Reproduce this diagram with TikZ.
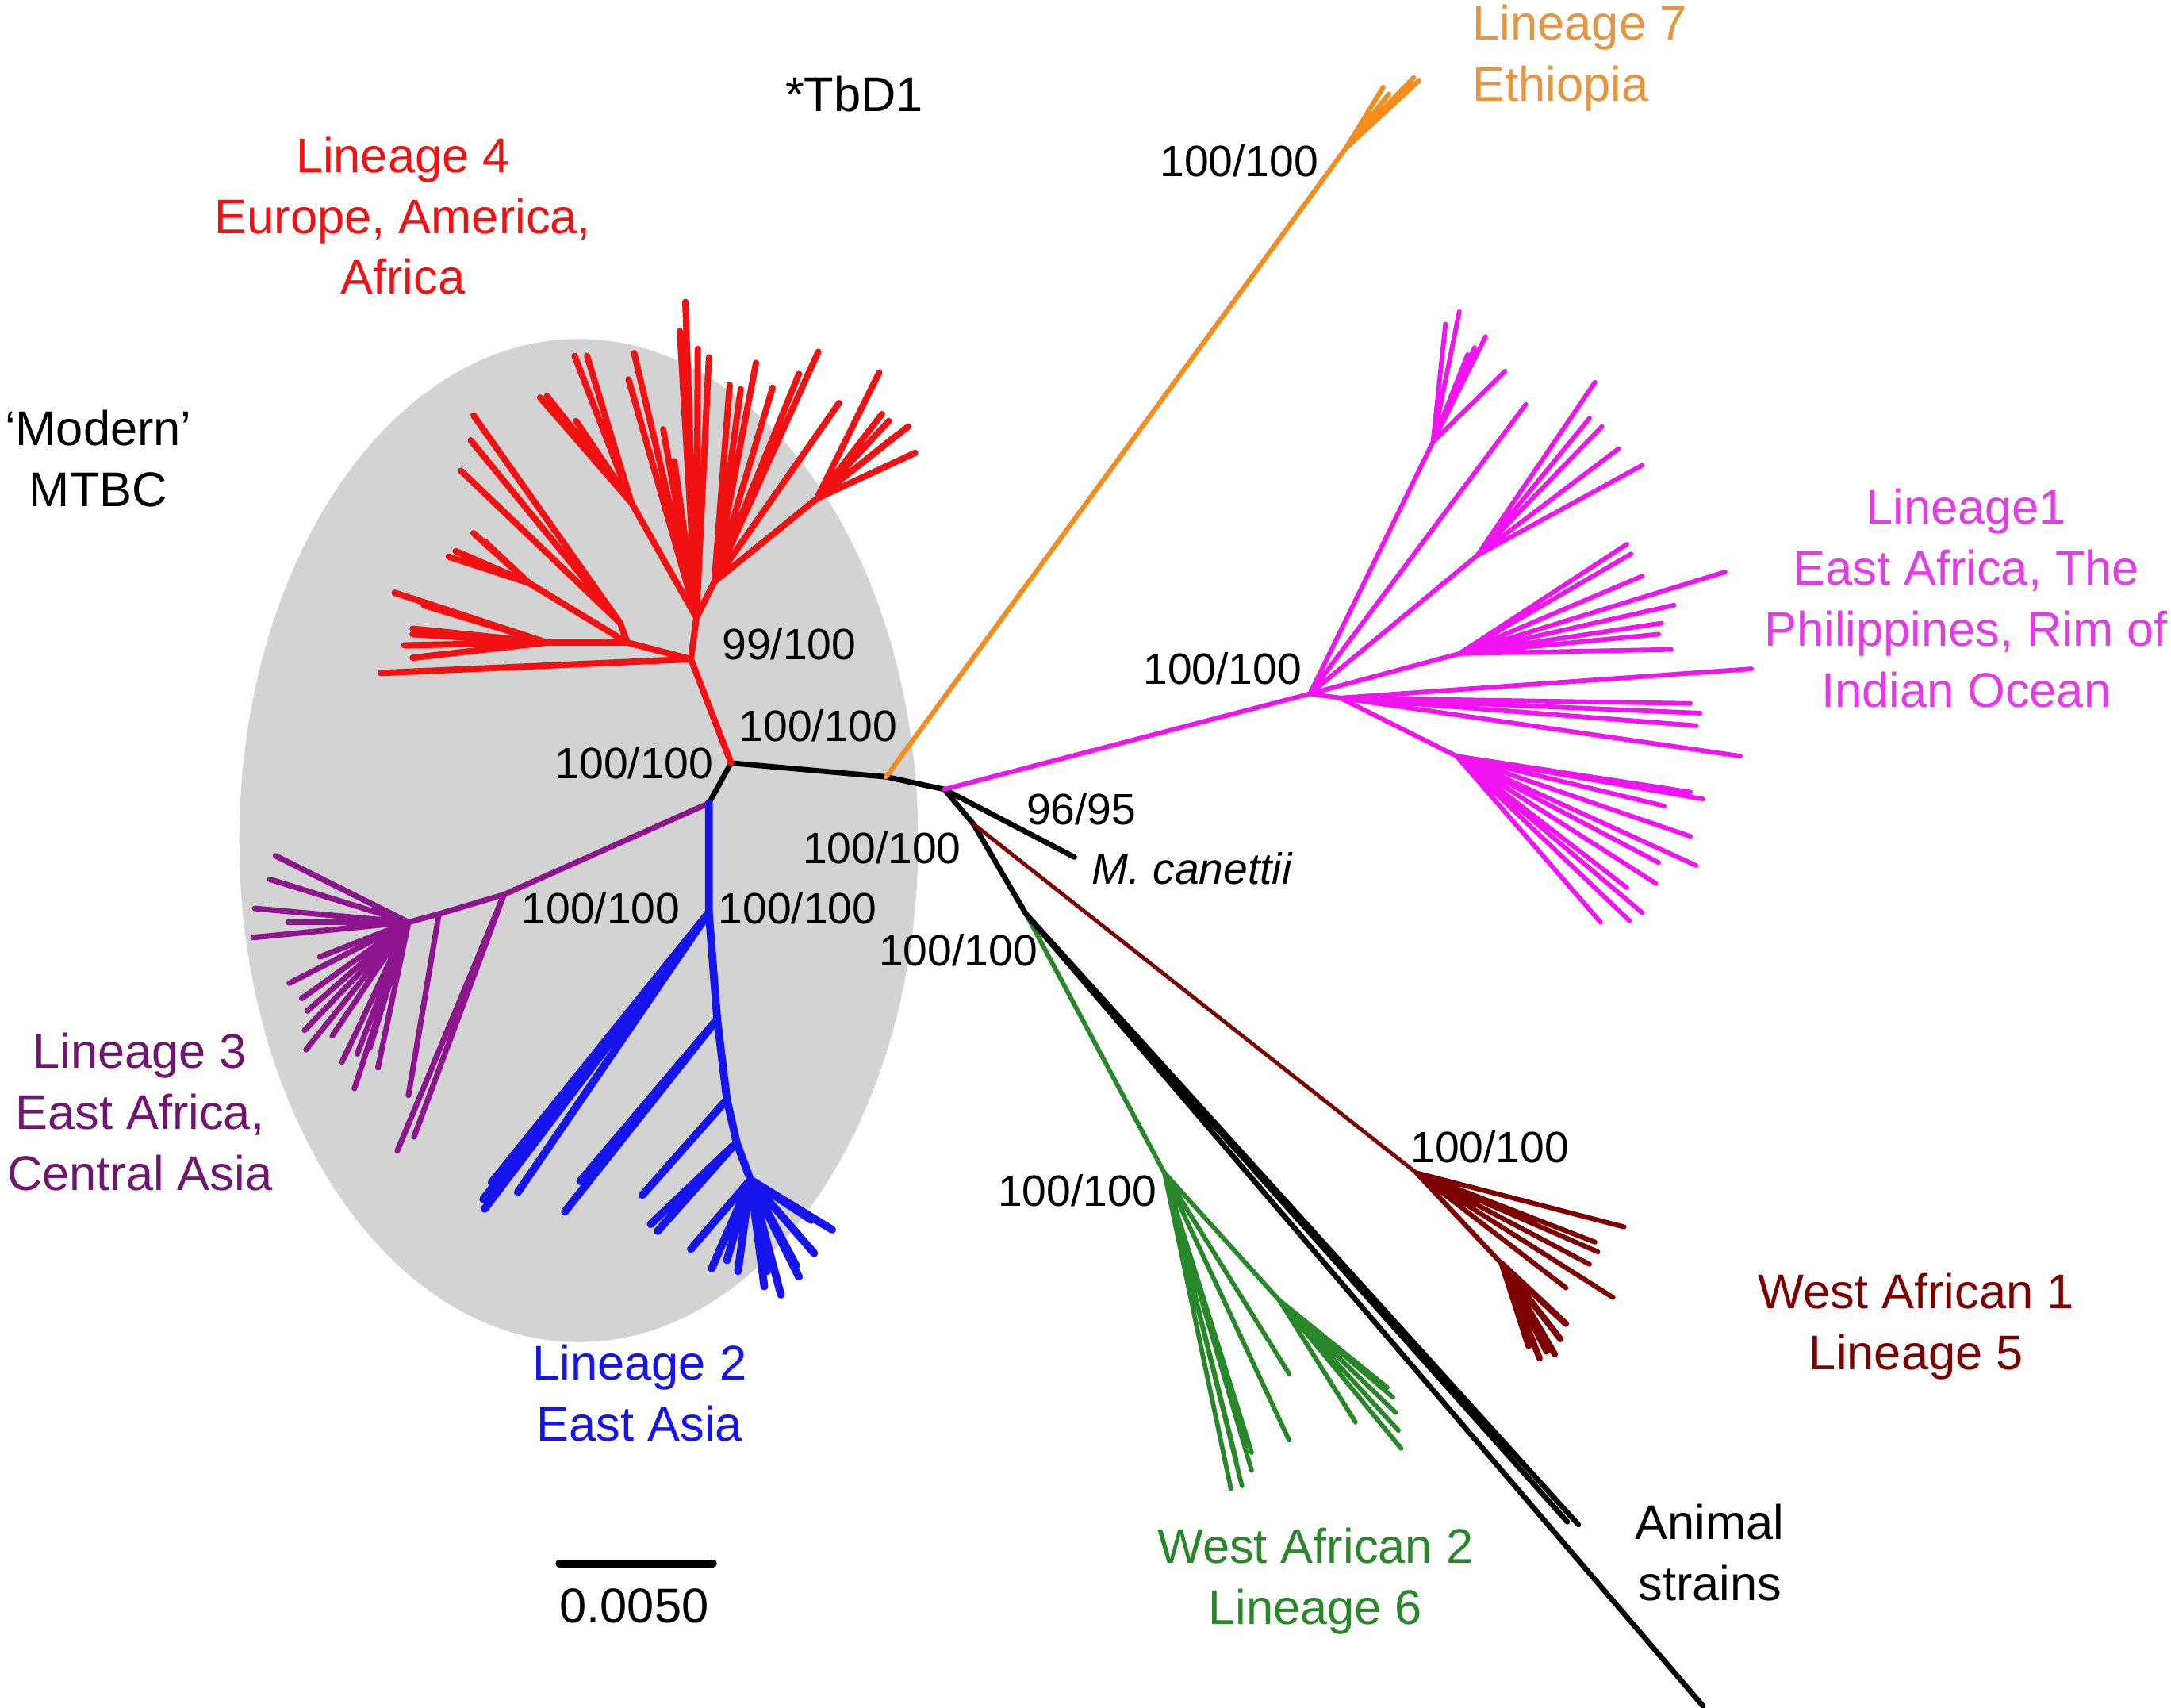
\documentclass[tikz,border=0pt]{standalone}
\usepackage{fontspec}
\setmainfont{Liberation Sans}

\definecolor{linfour}{RGB}{240,18,18}
\definecolor{linthree}{RGB}{140,20,140}
\definecolor{linthreetxt}{RGB}{112,22,112}
\definecolor{lintwo}{RGB}{20,20,235}
\definecolor{linone}{RGB}{240,20,240}
\definecolor{linonetxt}{RGB}{228,60,228}
\definecolor{linseven}{RGB}{245,140,30}
\definecolor{linseventxt}{RGB}{230,150,65}
\definecolor{linsix}{RGB}{40,135,40}
\definecolor{linfive}{RGB}{125,0,0}
\definecolor{mtbcgrey}{RGB}{211,211,211}

\tikzset{
	br/.style={line width=1.1pt, line cap=round, line join=round},
	bk/.style={br, draw=black},
	lfour/.style={br, draw=linfour, line width=1.3pt},
	lthree/.style={br, draw=linthree, line width=1.15pt},
	ltwo/.style={br, draw=lintwo, line width=1.6pt},
	lone/.style={br, draw=linone, line width=0.95pt},
	lseven/.style={br, draw=linseven, line width=1pt},
	lsix/.style={br, draw=linsix, line width=0.95pt},
	lfive/.style={br, draw=linfive, line width=1pt},
	lab/.style={font=\fontsize{10}{12.5}\selectfont, align=center, inner sep=0pt},
	boot/.style={font=\fontsize{9}{10}\selectfont, inner sep=0pt}
}

\begin{document}
\begin{tikzpicture}[x=0.01cm, y=-0.01cm]

	\useasboundingbox (0,0) rectangle (1568,1233);

	% modern MTBC area
	\fill[mtbcgrey] (418,607) ellipse [x radius=2.45cm, y radius=3.62cm];

	% backbone
	\coordinate (a) at (528,551);
	\coordinate (b) at (512,580);
	\coordinate (o) at (640,561);
	\coordinate (c) at (682,570);
	\coordinate (d) at (703,595);
	\coordinate (f) at (741,660);
	\coordinate (can) at (776,619);

		\draw[bk] (b) -- (a) -- (o) -- (c) -- (d) -- (f);
		\draw[bk] (c) -- (can);

	% lineage 7
	\coordinate (l7) at (972,107);
		\draw[lseven] (o) -- (l7);
		\draw[lseven] (l7) -- (999,63) (l7) -- (1003,68) (l7) -- (1019,59) (l7) -- (1021,56) (l7) -- (1025,58);

	% lineage 4
	\coordinate (l4a) at (499,476);
	\coordinate (l4b) at (503,446);
	\coordinate (l4c) at (453,464);
	\coordinate (l4d) at (395,464);
	\coordinate (l4e) at (382,421);
	\coordinate (l4f) at (448,450);
	\coordinate (l4g) at (456,363);
	\coordinate (l4h) at (516,420);
	\coordinate (l4i) at (590,360);
		\draw[lfour] (a) -- (l4a) -- (l4b);
		\draw[lfour] (l4a) -- (275,486) (l4a) -- (l4c) -- (l4d);
		\draw[lfour] (l4d) -- (298,475) (l4d) -- (298,458) (l4d) -- (298,454) (l4d) -- (285,428) (l4d) -- (306,437) (l4d) -- (292,466);
		\draw[lfour] (l4c) -- (l4e) (l4c) -- (l4f);
		\draw[lfour] (l4e) -- (324,402) (l4e) -- (334,400) (l4e) -- (342,385) (l4e) -- (350,391) (l4e) -- (329,398);
		\draw[lfour] (l4f) -- (333,340) (l4f) -- (342,300) (l4f) -- (340,318);
		\draw[lfour] (l4b) -- (495,218) (l4b) -- (491,239) (l4b) -- (504,252) (l4b) -- (512,258) (l4b) -- (479,310) (l4b) -- (487,333) (l4b) -- (458,255) (l4b) -- (454,274);
		\draw[lfour] (l4b) -- (l4g) (l4b) -- (l4h);
		\draw[lfour] (l4g) -- (415,257) (l4g) -- (424,257) (l4g) -- (390,287) (l4g) -- (395,286) (l4g) -- (416,304);
		\draw[lfour] (l4h) -- (606,291) (l4h) -- (591,254) (l4h) -- (577,270) (l4h) -- (558,280) (l4h) -- (546,262) (l4h) -- (527,278) (l4h) -- (535,281) (l4h) -- (l4i);
		\draw[lfour] (l4i) -- (661,327) (l4i) -- (656,308) (l4i) -- (642,304) (l4i) -- (635,269) (l4i) -- (637,299) (l4i) -- (648,314);

	% lineage 3
	\coordinate (l3a) at (364,646);
	\coordinate (l3b) at (317,660);
	\coordinate (l3c) at (295,666);
		\draw[lthree] (b) -- (l3a) -- (l3b) -- (l3c);
		\draw[lthree] (l3a) -- (287,831) (l3a) -- (299,821) (l3b) -- (295,791);
		\draw[lthree] (l3c) -- (199,618) (l3c) -- (195,635) (l3c) -- (184,656) (l3c) -- (183,677) (l3c) -- (208,666) (l3c) -- (209,710) (l3c) -- (218,721) (l3c) -- (222,730);
		\draw[lthree] (l3c) -- (220,744) (l3c) -- (221,758) (l3c) -- (240,748) (l3c) -- (247,767) (l3c) -- (256,786) (l3c) -- (273,771) (l3c) -- (267,757) (l3c) -- (231,691) (l3c) -- (258,761);

	% lineage 2
	\coordinate (l2a) at (512,659);
	\coordinate (l2b) at (518,736);
	\coordinate (l2c) at (525,794);
	\coordinate (l2d) at (532,825);
	\coordinate (l2e) at (542,852);
		\draw[ltwo] (b) -- (l2a) -- (l2b) -- (l2c) -- (l2d) -- (l2e);
		\draw[ltwo] (l2a) -- (350,873) (l2a) -- (349,866) (l2a) -- (374,861) (l2a) -- (355,854);
		\draw[ltwo] (l2b) -- (408,875) (l2b) -- (419,853) (l2c) -- (464,863) (l2d) -- (470,884) (l2d) -- (475,889);
		\draw[ltwo] (l2e) -- (499,902) (l2e) -- (514,916) (l2e) -- (525,910) (l2e) -- (533,918) (l2e) -- (552,929) (l2e) -- (554,918);
		\draw[ltwo] (l2e) -- (564,935) (l2e) -- (575,914) (l2e) -- (577,922) (l2e) -- (586,881) (l2e) -- (588,905) (l2e) -- (601,888);

	% lineage 1
	\coordinate (l1a) at (946,501);
	\coordinate (l1b) at (1035,319);
	\coordinate (l1c) at (1067,401);
	\coordinate (l1d) at (1054,472);
	\coordinate (l1e) at (968,504);
	\coordinate (l1f) at (1052,546);
		\draw[lone] (c) -- (l1a) -- (l1e) -- (l1f);
		\draw[lone] (l1a) -- (l1b) (l1a) -- (l1c) (l1a) -- (l1d) (l1a) -- (1102,292);
		\draw[lone] (l1b) -- (1044,234) (l1b) -- (1054,225) (l1b) -- (1060,256) (l1b) -- (1065,251) (l1b) -- (1073,243) (l1b) -- (1087,268);
		\draw[lone] (l1c) -- (1152,276) (l1c) -- (1148,302) (l1c) -- (1157,308) (l1c) -- (1169,324) (l1c) -- (1186,336);
		\draw[lone] (l1d) -- (1175,393) (l1d) -- (1178,400) (l1d) -- (1186,416) (l1d) -- (1246,413) (l1d) -- (1209,437) (l1d) -- (1200,450) (l1d) -- (1198,458) (l1d) -- (1207,469);
		\draw[lone] (l1e) -- (1265,483) (l1e) -- (1221,508) (l1e) -- (1228,515) (l1e) -- (1225,524) (l1e) -- (1257,546);
		\draw[lone] (l1f) -- (1221,572) (l1f) -- (1230,577) (l1f) -- (1202,582) (l1f) -- (1221,604) (l1f) -- (1225,625) (l1f) -- (1198,623);
		\draw[lone] (l1f) -- (1196,638) (l1f) -- (1175,641) (l1f) -- (1186,659) (l1f) -- (1156,666) (l1f) -- (1177,665);

	% lineage 5
	\coordinate (l5a) at (1023,847);
	\coordinate (l5b) at (1085,913);
		\draw[lfive, line width=0.8pt] (d) -- (l5a);
		\draw[lfive] (l5a) -- (1173,886) (l5a) -- (1152,897) (l5a) -- (1154,904) (l5a) -- (1148,913) (l5a) -- (1165,937) (l5a) -- (1131,930) (l5a) -- (l5b);
		\draw[lfive, line width=1.3pt] (l5b) -- (1112,981) (l5b) -- (1117,976) (l5b) -- (1127,967) (l5b) -- (1131,956) (l5b) -- (1104,972) (l5b) -- (1123,978);

	% lineage 6
	\coordinate (l6a) at (841,847);
	\coordinate (l6b) at (924,939);
		\draw[lsix] (f) -- (l6a);
		\draw[lsix] (l6a) -- (889,1075) (l6a) -- (897,1073) (l6a) -- (904,1062) (l6a) -- (904,1049) (l6a) -- (893,1055) (l6a) -- (931,1040) (l6a) -- (931,992) (l6a) -- (l6b);
		\draw[lsix] (l6b) -- (979,1027) (l6b) -- (1012,1046) (l6b) -- (1010,1033) (l6b) -- (1006,1009) (l6b) -- (1008,1020) (l6b) -- (1002,1002);

	% animal strains
	\coordinate (an1) at (1132,1099);
	\coordinate (an2) at (1140,1101);
	\coordinate (an3) at (1230,1232);
		\draw[bk] (f) -- (an1) (f) -- (an2) (f) -- (an3);

	% scale bar
	\coordinate (sb1) at (404,1129);
	\coordinate (sb2) at (515,1129);
		\draw[line width=1.6pt, line cap=round] (sb1) -- (sb2);

	% bootstrap values
		\node[boot] (bs1) at (895,116) {100/100};
		\node[boot] (bs2) at (570,465) {99/100};
		\node[boot] (bs3) at (591,524) {100/100};
		\node[boot] (bs4) at (458,551) {100/100};
		\node[boot] (bs5) at (883,483) {100/100};
		\node[boot] (bs6) at (781,584) {96/95};
		\node[boot] (bs7) at (637,612) {100/100};
		\node[boot] (bs8) at (434,656) {100/100};
		\node[boot] (bs9) at (576,656) {100/100};
		\node[boot] (bs10) at (692,686) {100/100};
		\node[boot] (bs11) at (1076,828) {100/100};
		\node[boot] (bs12) at (778,860) {100/100};

	% labels
		\node[lab, text=linseventxt, align=left, anchor=west] (t7) at (1063,42) {Lineage 7\\Ethiopia};
		\node[lab] (tb) at (617,68) {*TbD1};
		\node[lab, text=linfour] (t4) at (291,156) {Lineage 4\\Europe, America,\\Africa};
		\node[lab] (tm) at (71,331) {‘Modern’\\MTBC};
		\node[lab, text=linonetxt] (t1) at (1420,432) {Lineage1\\East Africa, The\\Philippines, Rim of\\Indian Ocean};
		\node[lab, text=linthreetxt] (t3) at (101,803) {Lineage 3\\East Africa,\\Central Asia};
		\node[lab, text=lintwo] (t2) at (462,1006) {Lineage 2\\East Asia};
		\node[lab, text=linsix] (t6) at (950,1142) {West African 2\\Lineage 6};
		\node[lab, text=linfive] (t5) at (1384,958) {West African 1\\Lineage 5};
		\node[lab] (ta) at (1235,1121) {Animal\\strains};
		\node[boot, font=\fontsize{9}{10}\selectfont\itshape, anchor=west] (tc) at (788,627) {M. canettii};
		\node[lab] (ts) at (458,1160) {0.0050};

\end{tikzpicture}
\end{document}
